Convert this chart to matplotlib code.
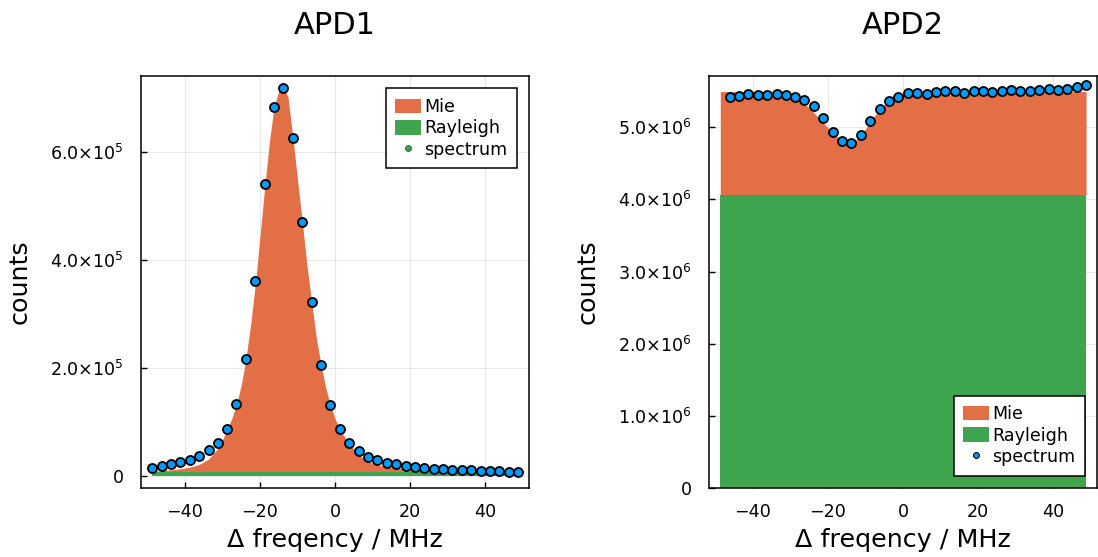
import matplotlib
matplotlib.use("Agg")
import matplotlib.pyplot as plt
from matplotlib.patches import Patch
from matplotlib.lines import Line2D

plt.rcParams["font.family"] = ["DejaVu Sans"]
plt.rcParams["mathtext.fontset"] = "dejavusans"
plt.rcParams["mathtext.default"] = "regular"

MIE = "#e26f46"
RAY = "#3ea44e"
DOT = "#009afa"

# ---- data ----
freq = [-48.6, -46.1, -43.6, -41.1, -38.6, -36.1, -33.6, -31.1, -28.6, -26.2,
        -23.7, -21.2, -18.7, -16.2, -13.7, -11.2, -8.7, -6.2, -3.7, -1.2,
        1.3, 3.8, 6.3, 8.8, 11.3, 13.8, 16.3, 18.8, 21.3, 23.8,
        26.2, 28.7, 31.2, 33.7, 36.2, 38.7, 41.2, 43.7, 46.2, 48.7]

# APD1 spectrum (counts)
apd1_spec = [15.4e3, 19e3, 22e3, 26e3, 31e3, 38e3, 48e3, 62e3, 88e3, 133e3,
             217e3, 361e3, 542e3, 684e3, 719e3, 627e3, 471e3, 322e3, 206e3, 132e3,
             88e3, 62e3, 46e3, 36e3, 30e3, 25e3, 22e3, 19e3, 17e3, 15.4e3,
             14e3, 13e3, 12.4e3, 11.7e3, 11e3, 10.5e3, 10e3, 9.3e3, 8.7e3, 8e3]

# APD1 model (Rayleigh + Mie) on a finer grid
apd1_fit_x = [-48.7, -46.1, -43.6, -41.1, -38.6, -36.1, -33.6, -31.1, -29.9, -28.6,
              -27.4, -26.2, -24.9, -23.7, -22.4, -21.1, -19.9, -18.6, -17.4, -16.2,
              -15.0, -13.8, -12.5, -11.2, -10.0, -8.7, -7.5, -6.2, -5.0, -3.7,
              -2.5, -1.3, 0.0, 1.2, 2.5, 3.8, 5.0, 6.3, 7.5, 8.8,
              11.2, 13.7, 16.3, 18.8, 21.3, 26.2, 31.2, 36.2, 41.2, 46.2, 48.7]
apd1_fit_y = [9.5e3, 10.5e3, 12e3, 14e3, 17e3, 22e3, 32e3, 52e3, 68e3, 88e3,
              108e3, 133e3, 170e3, 217e3, 283e3, 361e3, 448e3, 542e3, 622e3, 684e3,
              712e3, 721e3, 702e3, 627e3, 551e3, 471e3, 393e3, 322e3, 258e3, 206e3,
              165e3, 133e3, 107e3, 88e3, 73e3, 62e3, 50e3, 41e3, 33e3, 27.8e3,
              21.7e3, 17.4e3, 15.5e3, 13.7e3, 13e3, 11.5e3, 10.5e3, 9.8e3, 9.3e3, 9.0e3, 8.8e3]
apd1_rayleigh = 7.5e3

# APD2 spectrum (counts), starts one step later
apd2_x = freq[1:]
apd2_spec = [5.418e6, 5.436e6, 5.464e6, 5.450e6, 5.442e6, 5.460e6, 5.450e6, 5.418e6, 5.377e6, 5.298e6,
             5.132e6, 4.934e6, 4.805e6, 4.785e6, 4.896e6, 5.090e6, 5.256e6, 5.359e6, 5.418e6, 5.470e6,
             5.470e6, 5.464e6, 5.492e6, 5.497e6, 5.497e6, 5.478e6, 5.506e6, 5.506e6, 5.483e6, 5.506e6,
             5.519e6, 5.506e6, 5.506e6, 5.519e6, 5.529e6, 5.511e6, 5.533e6, 5.553e6, 5.585e6]

# APD2 model (Rayleigh + Mie) on the freq grid
apd2_fit_y = [5.494e6, 5.494e6, 5.494e6, 5.494e6, 5.494e6, 5.493e6, 5.485e6, 5.46e6, 5.41e6, 5.33e6,
              5.20e6, 5.06e6, 4.92e6, 4.81e6, 4.78e6, 4.88e6, 5.08e6, 5.25e6, 5.36e6, 5.43e6,
              5.47e6, 5.488e6, 5.494e6, 5.494e6, 5.494e6, 5.494e6, 5.494e6, 5.494e6, 5.494e6, 5.494e6,
              5.494e6, 5.494e6, 5.494e6, 5.494e6, 5.494e6, 5.494e6, 5.494e6, 5.494e6, 5.494e6, 5.494e6]
apd2_rayleigh = 4.067e6

xticks = [-40, -20, 0, 20, 40]
apd1_yticks = [0, 2e5, 4e5, 6e5]
apd1_ylabels = ["0", r"$2.0{\times}10^{5}$", r"$4.0{\times}10^{5}$", r"$6.0{\times}10^{5}$"]
apd2_yticks = [0, 1e6, 2e6, 3e6, 4e6, 5e6]
apd2_ylabels = ["0"] + [r"$%d.0{\times}10^{6}$" % k for k in range(1, 6)]


def style(ax, title):
    ax.set_title(title, fontsize=22, pad=30)
    ax.set_xlim(-51.6, 51.6)
    ax.set_xticks(xticks)
    ax.set_xticklabels(["\u2212%d" % -t if t < 0 else "%d" % t for t in xticks])
    ax.grid(True, color="#000000", alpha=0.09, lw=0.8)
    ax.set_axisbelow(True)
    ax.tick_params(direction="in", length=4, width=1, labelsize=12.6, top=False, right=False)
    ax.tick_params(axis="x", pad=10.5)
    ax.tick_params(axis="y", pad=12.5)
    for s in ax.spines.values():
        s.set_linewidth(1.1)
    ax.set_xlabel("\u0394 freqency / MHz", fontsize=18.3)
    ax.set_ylabel("counts", fontsize=18.3)
    ax.xaxis.set_label_coords(0.5, -0.126)
    ax.xaxis.label.set_va("center")
    ax.yaxis.set_label_coords(-0.313, 0.5)
    ax.yaxis.label.set_va("center")


def legend(ax, loc, dotcolor, dotedge):
    h = [Patch(facecolor=MIE, edgecolor="none", label="Mie"),
         Patch(facecolor=RAY, edgecolor="none", label="Rayleigh"),
         Line2D([], [], ls="none", marker="o", ms=4.2, mfc=dotcolor, mec=dotedge, mew=0.8,
                label="spectrum")]
    ax.legend(handles=h, loc=loc, fontsize=12.6, frameon=True, fancybox=False, framealpha=1,
              edgecolor="black", borderpad=0.55, labelspacing=0.2, handlelength=1.5,
              handleheight=0.9, handletextpad=0.15, borderaxespad=0.7).get_frame().set_linewidth(1.1)


fig = plt.figure(figsize=(10.98, 5.57), dpi=100)
ax1 = fig.add_axes([141 / 1098, 1 - 488 / 557, 388 / 1098, 412 / 557])
ax2 = fig.add_axes([709 / 1098, 1 - 488 / 557, 388 / 1098, 412 / 557])

# APD1
ax1.fill_between(apd1_fit_x, apd1_rayleigh, apd1_fit_y, color=MIE, lw=0, zorder=2)
ax1.fill_between(apd1_fit_x, 0, apd1_rayleigh, color=RAY, lw=0, zorder=2)
ax1.plot(freq, apd1_spec, ls="none", marker="o", ms=6.5, mfc=DOT, mec="black", mew=1.3, zorder=3)
style(ax1, "APD1")
ax1.set_ylim(-21.6e3, 741e3)
ax1.set_yticks(apd1_yticks)
ax1.set_yticklabels(apd1_ylabels)
legend(ax1, "upper right", RAY, "#2a7a38")

# APD2
ax2.fill_between(freq, apd2_rayleigh, apd2_fit_y, color=MIE, lw=0, zorder=2)
ax2.fill_between(freq, 0, apd2_rayleigh, color=RAY, lw=0, zorder=2)
ax2.plot(apd2_x, apd2_spec, ls="none", marker="o", ms=6.5, mfc=DOT, mec="black", mew=1.3, zorder=3)
style(ax2, "APD2")
ax2.set_ylim(0, 5.71e6)
ax2.set_yticks(apd2_yticks)
ax2.set_yticklabels(apd2_ylabels)
legend(ax2, "lower right", DOT, "black")

fig.savefig("out.png", dpi=100)
